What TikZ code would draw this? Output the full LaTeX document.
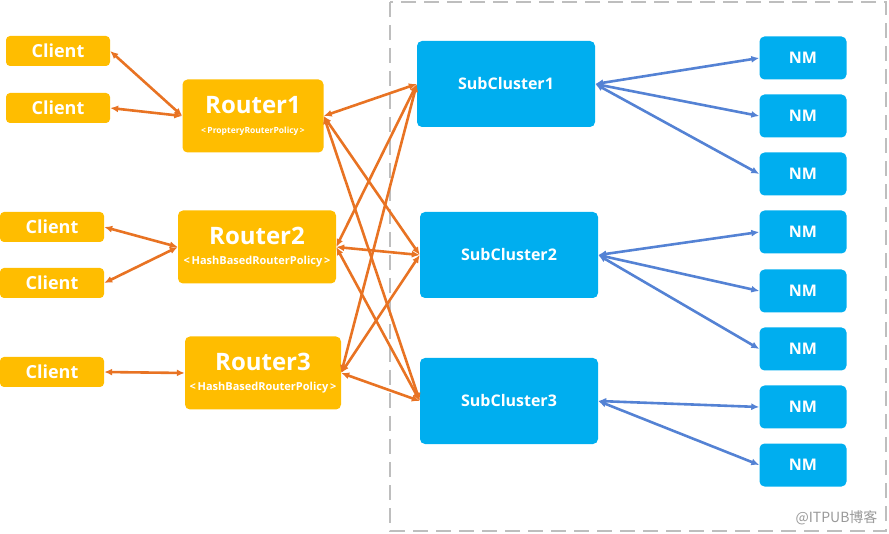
\documentclass[tikz,border=0pt]{standalone}
\usepackage{fontspec}
\setmainfont{Open Sans}
\newfontfamily\cjk{Noto Sans CJK SC}
\usepackage{xcolor}
\usetikzlibrary{arrows.meta}
\definecolor{gold}{RGB}{255,189,0}
\definecolor{rust}{RGB}{232,115,35}
\definecolor{sky}{RGB}{0,174,239}
\definecolor{steel}{RGB}{84,130,212}
\definecolor{frame}{RGB}{190,190,190}

\begin{document}
\begin{tikzpicture}[x=1pt, y=-1pt,
  client/.style={fill=gold, rounded corners=4pt, minimum width=104pt, minimum height=30pt, text=white, font=\bfseries\fontsize{18}{18}\selectfont},
  router/.style={fill=gold, rounded corners=5pt, minimum height=73pt, text=white, align=center, inner sep=0pt},
  cluster/.style={fill=sky, rounded corners=5pt, minimum width=178pt, minimum height=86pt, text=white, font=\bfseries\fontsize{16}{16}\selectfont},
  nm/.style={fill=sky, rounded corners=5pt, minimum width=87pt, minimum height=43pt, text=white, font=\bfseries\fontsize{16}{16}\selectfont},
  link/.style={rust, line width=2.6pt, {Latex[length=8pt,width=7pt]}-{Latex[length=8pt,width=7pt]}},
  nmlink/.style={steel, line width=2.6pt, {Latex[length=8pt,width=7pt]}-{Latex[length=8pt,width=7pt]}}]
\useasboundingbox (0,0) rectangle (889,534);
\draw [frame, line width=2pt, dash pattern=on 15pt off 8pt] (390,2) rectangle (886,531);

\node [client] (c1) at (58,51) {Client};
\node [client] (c2) at (58,108) {Client};
\node [client] (c3) at (52,227) {Client};
\node [client] (c4) at (52,283) {Client};
\node [client] (c5) at (52,372) {Client};

\node [router, minimum width=141pt] (r1) at (253,116) {{\bfseries\fontsize{24}{24}\selectfont Router1}\\[8pt]{\bfseries\fontsize{8.5}{8.5}\selectfont <\,PropteryRouterPolicy\,>}};
\node [router, minimum width=158pt] (r2) at (257,247) {{\bfseries\fontsize{24}{24}\selectfont Router2}\\[8pt]{\bfseries\fontsize{11}{11}\selectfont <\,HashBasedRouterPolicy\,>}};
\node [router, minimum width=156pt] (r3) at (263,373) {{\bfseries\fontsize{24}{24}\selectfont Router3}\\[8pt]{\bfseries\fontsize{11}{11}\selectfont <\,HashBasedRouterPolicy\,>}};

\node [cluster] (s1) at (506,84) {SubCluster1};
\node [cluster] (s2) at (509,255) {SubCluster2};
\node [cluster] (s3) at (509,401) {SubCluster3};

\foreach \i/\y in {1/58, 2/116, 3/174, 4/232, 5/291, 6/349, 7/407, 8/465}
  \node [nm] (n\i) at (803,\y) {NM};

\draw [link] (c1.east) -- (r1.west);
\draw [link] (c2.east) -- (r1.west);
\draw [link] (c3.east) -- (r2.west);
\draw [link] (c4.east) -- (r2.west);
\draw [link] (c5.east) -- (r3.west);

\foreach \r in {r1,r2,r3}
  \foreach \s in {s1,s2,s3}
    \draw [link] (\r.east) -- (\s.west);

\foreach \n in {n1,n2,n3} \draw [nmlink] (s1.east) -- (\n.west);
\foreach \n in {n4,n5,n6} \draw [nmlink] (s2.east) -- (\n.west);
\foreach \n in {n7,n8} \draw [nmlink] (s3.east) -- (\n.west);

\node [anchor=east, text=gray!80, font=\cjk\fontsize{14}{14}\selectfont] (mark) at (881,518) {@ITPUB博客};
\end{tikzpicture}
\end{document}
